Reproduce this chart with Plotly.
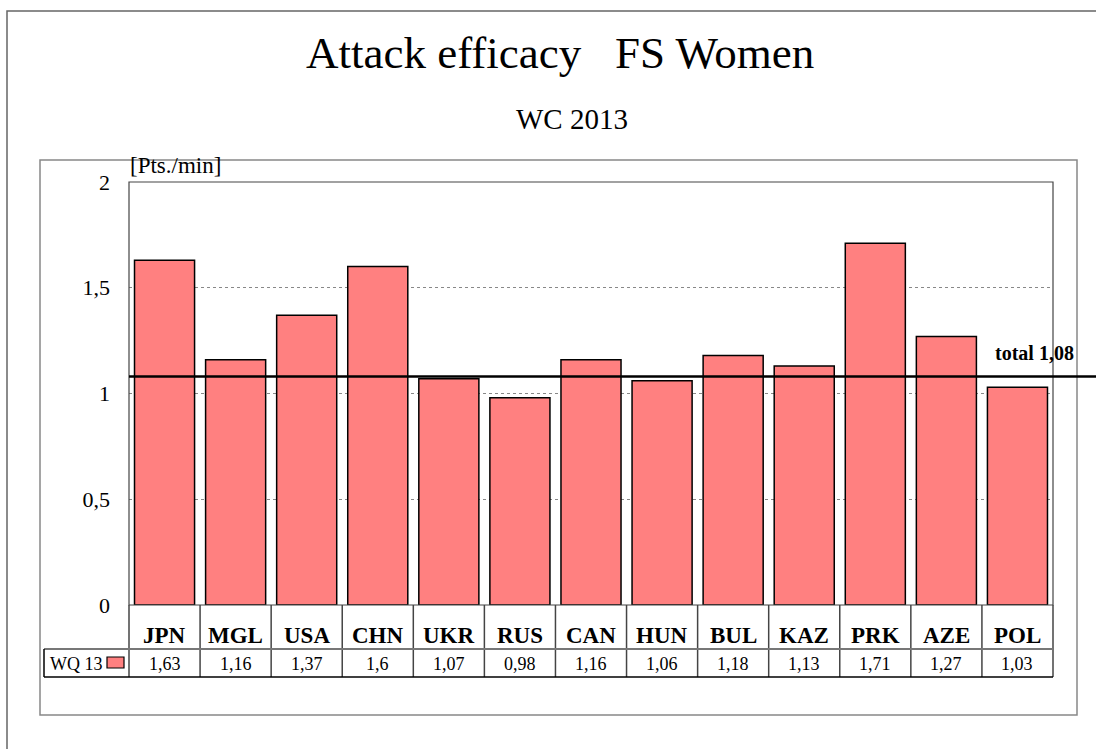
import plotly.graph_objects as go

# ---- data ----
categories = ["JPN", "MGL", "USA", "CHN", "UKR", "RUS", "CAN", "HUN", "BUL", "KAZ", "PRK", "AZE", "POL"]
values = [1.63, 1.16, 1.37, 1.6, 1.07, 0.98, 1.16, 1.06, 1.18, 1.13, 1.71, 1.27, 1.03]
series_name = "WQ 13"
total_value = 1.08
y_ticks = [0, 0.5, 1, 1.5, 2]
title_text = "Attack efficacy   FS Women"
subtitle_text = "WC 2013"
unit_text = "[Pts./min]"

# ---- geometry (pixels) ----
WIDTH, HEIGHT = 1096, 749
L, R, T, B = 129, 1053, 182, 605
PW, PH = R - L, B - T


def px(x):
    return (x - L) / PW


def py(y):
    return (B - y) / PH


FONT = "Liberation Serif, Times New Roman, serif"
BAR_COLOR = "#FF8080"


def fmt(v):
    return str(v).replace(".", ",")


fig = go.Figure()
fig.add_trace(go.Bar(
    x=categories, y=values, name=series_name,
    marker=dict(color=BAR_COLOR, line=dict(color="black", width=1.5)),
    showlegend=False,
))

shapes = []
annotations = []

# outer page frame
shapes.append(dict(type="rect", xref="paper", yref="paper",
                   x0=px(7), x1=px(1110), y0=py(11), y1=py(770),
                   line=dict(color="#666", width=1.5), layer="below"))
# chart frame
shapes.append(dict(type="rect", xref="paper", yref="paper",
                   x0=px(40), x1=px(1077), y0=py(160), y1=py(715),
                   line=dict(color="#888", width=1.5), layer="below"))
# plot area frame
shapes.append(dict(type="rect", xref="paper", yref="paper",
                   x0=0, x1=1, y0=0, y1=1,
                   line=dict(color="#444", width=1.2)))

# total line
shapes.append(dict(type="line", xref="paper", yref="y",
                   x0=0, x1=px(1100), y0=total_value, y1=total_value,
                   line=dict(color="black", width=2.5)))
annotations.append(dict(xref="paper", yref="paper", x=px(993), y=py(353),
                        xanchor="left", yanchor="middle", showarrow=False,
                        text="<b>total " + fmt(total_value) + "</b>",
                        font=dict(family=FONT, size=20, color="black")))

# data table
n = len(categories)
row1_top, row_sep, row2_bot = 605, 649, 677
for k in range(n + 1):
    xk = k / n
    shapes.append(dict(type="line", xref="paper", yref="paper",
                       x0=xk, x1=xk, y0=py(row1_top), y1=py(row2_bot),
                       line=dict(color="#444", width=1.5)))
shapes.append(dict(type="line", xref="paper", yref="paper",
                   x0=px(44), x1=1, y0=py(row_sep), y1=py(row_sep),
                   line=dict(color="#777", width=2)))
shapes.append(dict(type="line", xref="paper", yref="paper",
                   x0=px(44), x1=1, y0=py(row2_bot), y1=py(row2_bot),
                   line=dict(color="black", width=1.5)))
shapes.append(dict(type="line", xref="paper", yref="paper",
                   x0=px(44), x1=px(44), y0=py(row_sep), y1=py(row2_bot),
                   line=dict(color="black", width=1.5)))
# legend swatch
shapes.append(dict(type="rect", xref="paper", yref="paper",
                   x0=px(107), x1=px(124), y0=py(657), y1=py(668),
                   fillcolor=BAR_COLOR, line=dict(color="black", width=1.2)))
annotations.append(dict(xref="paper", yref="paper", x=px(48), y=py(664),
                        xanchor="left", yanchor="middle", showarrow=False,
                        text=series_name,
                        font=dict(family=FONT, size=18, color="black")))

for c, v in zip(categories, values):
    annotations.append(dict(xref="x", yref="paper", x=c, y=py(635),
                            xanchor="center", yanchor="middle", showarrow=False,
                            text="<b>" + c + "</b>",
                            font=dict(family=FONT, size=23, color="black")))
    annotations.append(dict(xref="x", yref="paper", x=c, y=py(664),
                            xanchor="center", yanchor="middle", showarrow=False,
                            text=fmt(v),
                            font=dict(family=FONT, size=18, color="black")))

# titles
annotations.append(dict(xref="paper", yref="paper", x=px(560), y=py(53),
                        xanchor="center", yanchor="middle", showarrow=False,
                        text=title_text,
                        font=dict(family=FONT, size=45, color="black")))
annotations.append(dict(xref="paper", yref="paper", x=px(572), y=py(119),
                        xanchor="center", yanchor="middle", showarrow=False,
                        text=subtitle_text,
                        font=dict(family=FONT, size=29, color="black")))
annotations.append(dict(xref="paper", yref="paper", x=px(128), y=py(165),
                        xanchor="left", yanchor="middle", showarrow=False,
                        text=unit_text,
                        font=dict(family=FONT, size=23, color="black")))

fig.update_layout(
    width=WIDTH, height=HEIGHT,
    margin=dict(l=L, r=WIDTH - R, t=T, b=HEIGHT - B, pad=0),
    paper_bgcolor="white", plot_bgcolor="white",
    separators=", ",
    bargap=0.155,
    shapes=shapes, annotations=annotations,
    font=dict(family=FONT, color="black"),
    xaxis=dict(range=[-0.5, n - 0.5], showticklabels=False, showgrid=False,
               zeroline=False, showline=False, ticks=""),
    yaxis=dict(range=[0, 2], tickvals=y_ticks, showgrid=True,
               gridcolor="#888", griddash="dot", gridwidth=1,
               zeroline=False, showline=False, ticks="",
               ticklabelstandoff=18,
               tickfont=dict(family=FONT, size=22, color="black")),
)

fig.write_html("out.html",
               config={"displayModeBar": False},
               post_script="document.body.style.margin='0px';"
                           "document.body.style.overflow='hidden';")
